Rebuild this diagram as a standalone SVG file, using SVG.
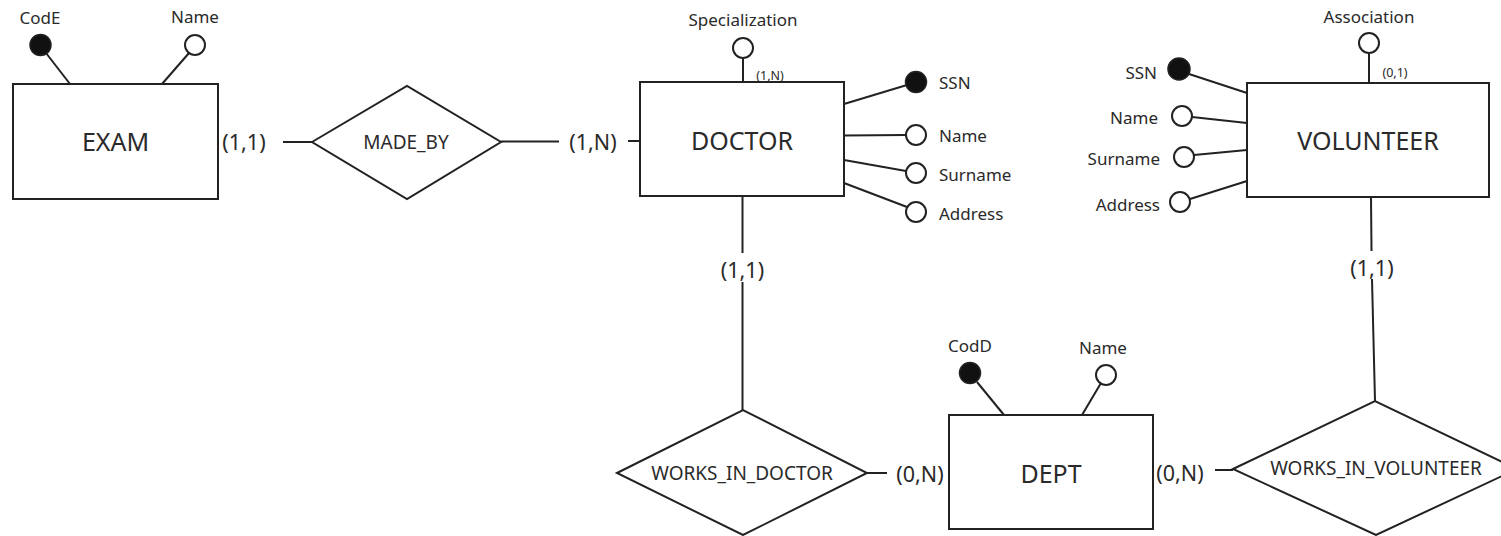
<svg xmlns="http://www.w3.org/2000/svg" width="1501" height="536" viewBox="0 0 1501 536">
  <style>
    .box { fill: #ffffff; stroke: #222222; stroke-width: 2; }
    .link { stroke: #222222; stroke-width: 2; fill: none; }
    .key { fill: #111111; stroke: #222222; stroke-width: 1.5; }
    .attr { fill: #ffffff; stroke: #222222; stroke-width: 2; }
    text { font-family: "Noto Sans", "Open Sans", sans-serif; fill: #2a2a2a; dominant-baseline: central; }
    .ent { font-size: 25px; text-anchor: middle; }
    .rel { font-size: 19px; text-anchor: middle; }
    .card { font-size: 21.5px; text-anchor: middle; }
    .small { font-size: 12.5px; text-anchor: middle; }
    .lbl { font-size: 17px; }
    .mid { text-anchor: middle; }
    .end { text-anchor: end; }
  </style>

  <rect width="1501" height="536" fill="#ffffff"/>

  <!-- connectors between entities and relationships -->
  <g id="connectors">
    <line class="link" x1="283" y1="142" x2="312" y2="142"/>
    <line class="link" x1="501" y1="141.5" x2="559" y2="141.5"/>
    <line class="link" x1="628" y1="141" x2="640" y2="141"/>
    <line class="link" x1="742.5" y1="196" x2="742.5" y2="253"/>
    <line class="link" x1="742.5" y1="282" x2="742.5" y2="410"/>
    <line class="link" x1="867" y1="473" x2="887" y2="473"/>
    <line class="link" x1="1215" y1="470" x2="1233" y2="470"/>
    <line class="link" x1="1371" y1="197" x2="1371.5" y2="251"/>
    <line class="link" x1="1372" y1="279" x2="1375" y2="401"/>
    <text class="card" x="244" y="141">(1,1)</text>
    <text class="card" x="593" y="141">(1,N)</text>
    <text class="card" x="742.5" y="269">(1,1)</text>
    <text class="card" x="920" y="473">(0,N)</text>
    <text class="card" x="1180" y="472">(0,N)</text>
    <text class="card" x="1372" y="267">(1,1)</text>
  </g>

  <!-- EXAM entity -->
  <g id="exam">
    <line class="link" x1="46" y1="53" x2="70" y2="84"/>
    <line class="link" x1="189" y1="53" x2="162" y2="84"/>
    <circle class="key" cx="40.5" cy="45" r="10.5"/>
    <circle class="attr" cx="195" cy="45" r="10"/>
    <text class="lbl mid" x="40" y="17">CodE</text>
    <text class="lbl mid" x="195" y="16">Name</text>
    <rect class="box" x="13" y="84" width="205" height="115"/>
    <text class="ent" x="115.5" y="141">EXAM</text>
  </g>

  <!-- MADE_BY relationship -->
  <g id="made_by">
    <polygon class="box" points="312,142 407,86 501,142 407,199"/>
    <text class="rel" x="406" y="142">MADE_BY</text>
  </g>

  <!-- DOCTOR entity -->
  <g id="doctor">
    <line class="link" x1="743" y1="58" x2="743" y2="82"/>
    <circle class="attr" cx="743" cy="48" r="10"/>
    <text class="lbl mid" x="743" y="19">Specialization</text>
    <text class="small" x="770" y="75">(1,N)</text>
    <line class="link" x1="844" y1="104" x2="907" y2="85"/>
    <line class="link" x1="844" y1="135.5" x2="906" y2="135"/>
    <line class="link" x1="844" y1="160" x2="906" y2="171"/>
    <line class="link" x1="844" y1="183" x2="907" y2="207"/>
    <circle class="key" cx="916" cy="82" r="10.5"/>
    <circle class="attr" cx="916" cy="135" r="10"/>
    <circle class="attr" cx="916" cy="173" r="10"/>
    <circle class="attr" cx="916" cy="212" r="10"/>
    <text class="lbl" x="939" y="82">SSN</text>
    <text class="lbl" x="939" y="135">Name</text>
    <text class="lbl" x="939" y="174">Surname</text>
    <text class="lbl" x="939" y="213">Address</text>
    <rect class="box" x="640" y="82" width="204" height="114"/>
    <text class="ent" x="742" y="140">DOCTOR</text>
  </g>

  <!-- VOLUNTEER entity -->
  <g id="volunteer">
    <line class="link" x1="1369" y1="53" x2="1369" y2="83"/>
    <circle class="attr" cx="1369" cy="43" r="10"/>
    <text class="lbl mid" x="1369" y="16">Association</text>
    <text class="small" x="1395" y="72">(0,1)</text>
    <line class="link" x1="1189" y1="74" x2="1247" y2="93"/>
    <line class="link" x1="1192" y1="117" x2="1247" y2="123"/>
    <line class="link" x1="1194" y1="155" x2="1247" y2="150"/>
    <line class="link" x1="1190" y1="199" x2="1247" y2="181"/>
    <circle class="key" cx="1179" cy="69" r="11"/>
    <circle class="attr" cx="1182" cy="116" r="10"/>
    <circle class="attr" cx="1184" cy="157" r="10"/>
    <circle class="attr" cx="1180" cy="202" r="10"/>
    <text class="lbl end" x="1157" y="72">SSN</text>
    <text class="lbl end" x="1158" y="117">Name</text>
    <text class="lbl end" x="1160" y="158">Surname</text>
    <text class="lbl end" x="1160" y="204">Address</text>
    <rect class="box" x="1247" y="83" width="242" height="114"/>
    <text class="ent" x="1368" y="140">VOLUNTEER</text>
  </g>

  <!-- WORKS_IN_DOCTOR relationship -->
  <g id="works_in_doctor">
    <polygon class="box" points="617,473 743,410 867,473 743,535"/>
    <text class="rel" x="742" y="473">WORKS_IN_DOCTOR</text>
  </g>

  <!-- DEPT entity -->
  <g id="dept">
    <line class="link" x1="977" y1="382" x2="1004" y2="415"/>
    <line class="link" x1="1101" y1="383" x2="1082" y2="415"/>
    <circle class="key" cx="970" cy="373" r="10.5"/>
    <circle class="attr" cx="1106" cy="375" r="10"/>
    <text class="lbl mid" x="970" y="345">CodD</text>
    <text class="lbl mid" x="1103" y="347">Name</text>
    <rect class="box" x="949" y="415" width="204" height="114"/>
    <text class="ent" x="1051" y="473">DEPT</text>
  </g>

  <!-- WORKS_IN_VOLUNTEER relationship -->
  <g id="works_in_volunteer">
    <polygon class="box" points="1233,469 1375,401 1517,469 1376,535"/>
    <text class="rel" x="1376" y="468">WORKS_IN_VOLUNTEER</text>
  </g>
</svg>
